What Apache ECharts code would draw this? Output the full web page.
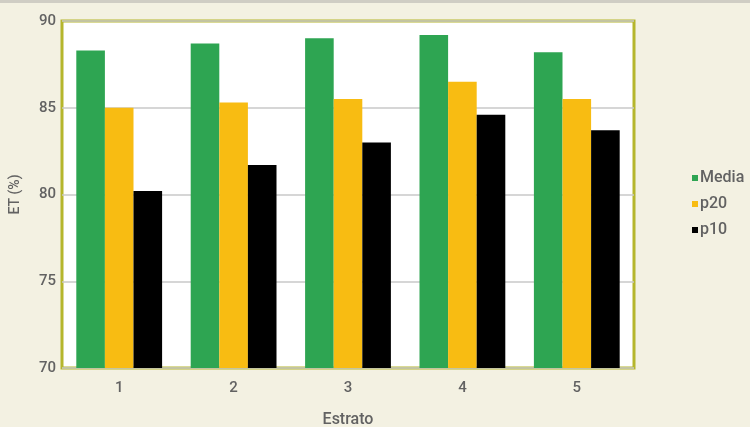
<!DOCTYPE html>
<html>
<head>
<meta charset="utf-8">
<script src="https://cdn.jsdelivr.net/npm/echarts@6/dist/echarts.min.js"></script>
<style>
  html, body { margin: 0; padding: 0; background: #f3f1e2; }
  #chart { width: 750px; height: 427px; }
</style>
</head>
<body>
<div id="chart"></div>
<script>
// Estratos and ET (%) per statistic
const categories = ['1', '2', '3', '4', '5'];
const media = [88.3, 88.7, 89.0, 89.2, 88.2];
const p20 = [85.0, 85.3, 85.5, 86.5, 85.5];
const p10 = [80.2, 81.7, 83.0, 84.6, 83.7];
const yTicks = { min: 70, max: 90, interval: 5 };

const labelFont = 'Roboto, "Liberation Sans", sans-serif';
const textColor = '#626262';

const chart = echarts.init(document.getElementById('chart'), null, { renderer: 'canvas' });

const barStyle = (color) => ({
  type: 'bar',
  barGap: '0%',
  barCategoryGap: '25%',
  itemStyle: { color: color },
  emphasis: { disabled: true }
});

chart.setOption({
  animation: false,
  backgroundColor: '#f3f1e2',
  graphic: [{
    type: 'rect',
    shape: { x: 0, y: 0, width: 750, height: 3 },
    style: { fill: '#cfcdc4' }
  }],
  legend: {
    orient: 'vertical',
    left: 687,
    top: 165,
    itemWidth: 6,
    itemHeight: 6,
    itemGap: 10,
    icon: 'rect',
    textStyle: { color: textColor, fontSize: 16, fontWeight: 500, fontFamily: labelFont, padding: [0, 0, 0, -3] },
    data: ['Media', 'p20', 'p10']
  },
  grid: {
    left: 62,
    top: 21,
    width: 572,
    height: 347,
    containLabel: false,
    outerBoundsMode: 'none',
    show: true,
    backgroundColor: '#ffffff',
    borderColor: '#b5b62c',
    borderWidth: 3
  },
  xAxis: {
    type: 'category',
    data: categories,
    name: 'Estrato',
    nameLocation: 'middle',
    nameGap: 44,
    nameTextStyle: { color: textColor, fontSize: 16, fontWeight: 500, fontFamily: labelFont },
    axisLine: { show: false },
    axisTick: { show: false },
    axisLabel: { color: textColor, fontSize: 15, fontWeight: 500, fontFamily: labelFont, margin: 13 }
  },
  yAxis: {
    type: 'value',
    min: yTicks.min,
    max: yTicks.max,
    interval: yTicks.interval,
    name: 'ET (%)',
    nameLocation: 'middle',
    nameGap: 40,
    nameTextStyle: { color: textColor, fontSize: 14, fontWeight: 500, fontFamily: labelFont },
    axisLine: { show: false },
    axisTick: { show: false },
    axisLabel: { color: textColor, fontSize: 15, fontWeight: 500, fontFamily: labelFont, margin: 6 },
    splitLine: { lineStyle: { color: '#c8c8c8', width: 1.5 } }
  },
  series: [
    Object.assign({ name: 'Media', data: media }, barStyle('#2ea552')),
    Object.assign({ name: 'p20', data: p20 }, barStyle('#f8bc12')),
    Object.assign({ name: 'p10', data: p10 }, barStyle('#000000'))
  ]
});
</script>
</body>
</html>
